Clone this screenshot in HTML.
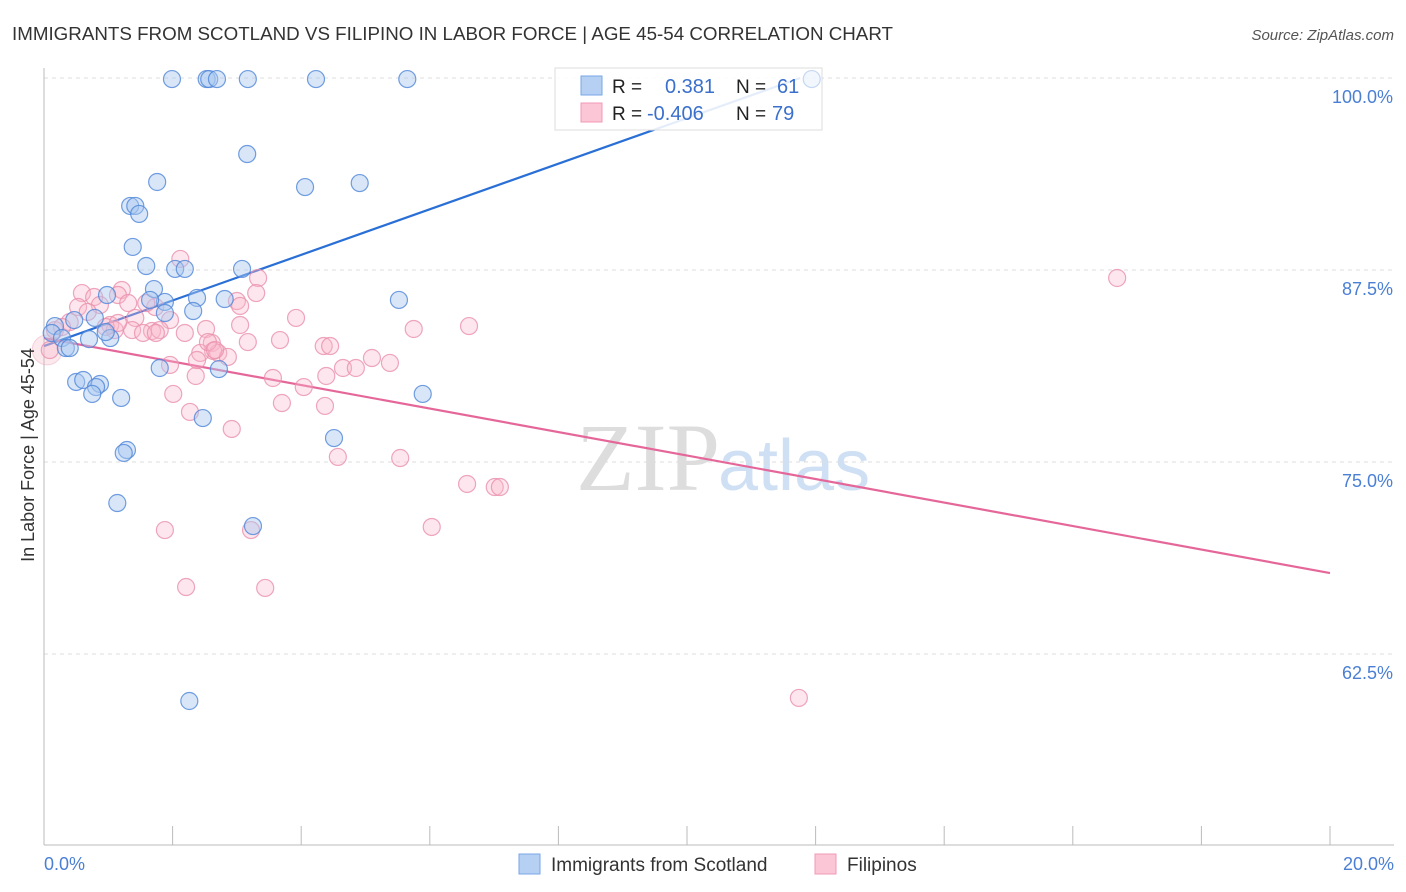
<!DOCTYPE html>
<html><head><meta charset="utf-8"><style>
body{margin:0;background:#fff;font-family:"Liberation Sans",sans-serif;}
svg{display:block}
</style></head><body>
<svg id="c" width="1406" height="892" xmlns="http://www.w3.org/2000/svg">
<text x="12" y="40" font-size="18.5" fill="#333" textLength="881" lengthAdjust="spacingAndGlyphs">IMMIGRANTS FROM SCOTLAND VS FILIPINO IN LABOR FORCE | AGE 45-54 CORRELATION CHART</text>
<text x="1394" y="40" font-size="15" fill="#555" font-style="italic" text-anchor="end">Source: ZipAtlas.com</text>
<text x="720" y="490" font-size="96" fill="#ddd" text-anchor="end" font-family="Liberation Serif,serif">ZIP</text>
<text x="718" y="490" font-size="72" fill="#cfe0f4">atlas</text>
<g id="grid"></g><g id="lines"></g>
<g>
<rect x="555" y="68" width="267" height="62" fill="#fff" fill-opacity="0.88" stroke="#ddd"/>
<rect x="581" y="76" width="21" height="19" fill="#b6d0f4" stroke="#7aa6e6"/>
<rect x="581" y="103" width="21" height="19" fill="#fbc7d6" stroke="#f09ab4"/>
<text x="612" y="93" font-size="19" fill="#222">R = </text><text x="665" y="93" font-size="20" fill="#3a70cc">0.381</text>
<text x="736" y="93" font-size="19" fill="#222">N = </text><text x="777" y="93" font-size="20" fill="#3a70cc">61</text>
<text x="612" y="120" font-size="19" fill="#222">R = </text><text x="647" y="120" font-size="20" fill="#3a70cc">-0.406</text>
<text x="736" y="120" font-size="19" fill="#222">N = </text><text x="772" y="120" font-size="20" fill="#3a70cc">79</text>
</g>
<g id="pts"></g>
<text transform="translate(34,455) rotate(-90)" font-size="18" fill="#333" text-anchor="middle">In Labor Force | Age 45-54</text>
<text x="44" y="870" font-size="18" fill="#4a7fd4">0.0%</text>
<text x="1394" y="870" font-size="18" fill="#4a7fd4" text-anchor="end">20.0%</text>
<g>
<rect x="519" y="854" width="21" height="20" fill="#b6d0f4" stroke="#7aa6e6"/>
<text x="551" y="871" font-size="19" fill="#333">Immigrants from Scotland</text>
<rect x="815" y="854" width="21" height="20" fill="#fbc7d6" stroke="#f09ab4"/>
<text x="847" y="871" font-size="19" fill="#333">Filipinos</text>
</g>
</svg>
<script>
const yTicks=[100,87.5,75,62.5];
const yTickLabels=["100.0%","87.5%","75.0%","62.5%"];
const xTicks=[0,2,4,6,8,10,12,14,16,18,20];
const scotX=[1.99,2.53,2.57,2.69,3.17,4.23,5.65,11.94,3.16,1.76,4.06,4.91,1.34,1.42,1.48,1.38,1.59,2.04,2.19,3.08,1.71,2.38,1.88,1.65,2.81,0.98,5.52,2.32,1.88,0.79,0.47,0.17,0.12,0.28,0.70,1.03,0.96,0.34,0.40,1.80,2.72,0.50,0.61,0.87,0.81,0.75,1.20,5.89,2.47,4.51,1.29,1.24,1.14,3.25,2.26];
const scotY=[99.93,99.93,99.93,99.93,99.93,99.93,99.93,99.93,95.05,93.23,92.90,93.16,91.67,91.67,91.15,89.0,87.76,87.57,87.57,87.57,86.26,85.68,85.42,85.55,85.61,85.87,85.55,84.83,84.70,84.38,84.24,83.85,83.4,83.07,83.0,83.07,83.46,82.42,82.42,81.12,81.05,80.21,80.34,80.08,79.88,79.43,79.17,79.43,77.86,76.56,75.78,75.59,72.33,70.83,59.44];
const filX=[16.69,2.12,3.33,0.59,0.78,1.21,1.15,0.53,0.87,1.31,1.73,1.59,1.96,2.52,3.0,3.05,3.30,3.92,4.35,4.45,5.75,6.61,3.05,1.42,1.03,1.10,1.37,1.68,1.80,2.19,2.61,2.71,2.86,3.17,3.67,2.63,2.43,1.96,2.36,3.56,4.04,4.39,4.65,4.85,5.10,5.38,2.01,2.27,3.70,4.37,2.92,4.57,5.54,6.58,7.01,7.09,6.03,1.88,3.22,2.21,3.44,11.74,0.09,0.17,0.40,0.28,0.68,0.96,1.54,1.74,2.38,1.15,2.55,2.66];
const filY=[86.98,88.22,86.98,86.0,85.74,86.2,85.87,85.09,85.22,85.35,85.09,85.35,84.24,83.66,85.48,85.16,86.0,84.38,82.55,82.55,83.66,83.85,83.92,84.38,83.92,83.59,83.59,83.53,83.59,83.4,82.75,82.1,81.84,82.81,82.94,82.23,82.1,81.32,80.6,80.47,79.88,80.6,81.12,81.12,81.77,81.45,79.43,78.26,78.84,78.65,77.15,75.33,75.26,73.57,73.37,73.37,70.77,70.57,70.57,66.86,66.80,59.64,82.29,83.59,84.11,83.79,84.77,83.79,83.4,83.4,81.64,84.05,82.81,82.29];
const blueTrend=[[0,82.55],[11.76,100]];
const pinkTrend=[[0,83.07],[20,67.77]];
const X=v=>44+v*64.3, Y=v=>78+(100-v)*15.36;
const NS="http://www.w3.org/2000/svg";
function mk(tag,attrs,parent){const e=document.createElementNS(NS,tag);for(const k in attrs)e.setAttribute(k,attrs[k]);parent.appendChild(e);return e;}
const grid=document.getElementById('grid');
yTicks.forEach((t,i)=>{
 const l=mk('line',{x1:44,x2:1394,y1:Y(t),y2:Y(t),stroke:'#ddd','stroke-dasharray':'4,4'},grid);
 
 
 const tx=mk('text',{x:1393,y:Y(t)+25,'font-size':18,fill:'#4a7fd4','text-anchor':'end'},grid);
 tx.textContent=yTickLabels[i];
 
 
});
const ax=mk('line',{x1:44,x2:1394,y1:845,y2:845,stroke:'#bbb'},grid);


const ay=mk('line',{x1:44,x2:44,y1:68,y2:845,stroke:'#bbb'},grid);


xTicks.forEach(t=>{const l=mk('line',{x1:X(t),x2:X(t),y1:826,y2:845,stroke:'#bbb'},grid);
 
 });
const pts=document.getElementById('pts');
const big=mk('circle',{cx:X(0.05),cy:Y(82.3),r:15,fill:'#f4b6c8','fill-opacity':0.3,stroke:'#e89ab2','stroke-opacity':0.4},pts);


filX.forEach((x,i)=>{const c=mk('circle',{cx:X(x),cy:Y(filY[i]),r:8.5,fill:'#f8b8cb','fill-opacity':0.35,stroke:'#ea90ad','stroke-opacity':0.8,'stroke-width':1.2},pts);
 
 });
scotX.forEach((x,i)=>{const c=mk('circle',{cx:X(x),cy:Y(scotY[i]),r:8.5,fill:'#a9c8f0','fill-opacity':0.45,stroke:'#4f86d8','stroke-opacity':0.8,'stroke-width':1.2},pts);
 if(x>11)c.setAttribute('fill-opacity',0.15),c.setAttribute('stroke-opacity',0.3);
 
 });
const lines=document.getElementById('lines');
const bl=mk('line',{x1:X(blueTrend[0][0]),y1:Y(blueTrend[0][1]),x2:X(blueTrend[1][0]),y2:Y(blueTrend[1][1]),stroke:'#2a6fd6','stroke-width':2.2},lines);


const pl=mk('line',{x1:X(pinkTrend[0][0]),y1:Y(pinkTrend[0][1]),x2:X(pinkTrend[1][0]),y2:Y(pinkTrend[1][1]),stroke:'#e5679a','stroke-width':2.2},lines);


</script>
</body></html>
